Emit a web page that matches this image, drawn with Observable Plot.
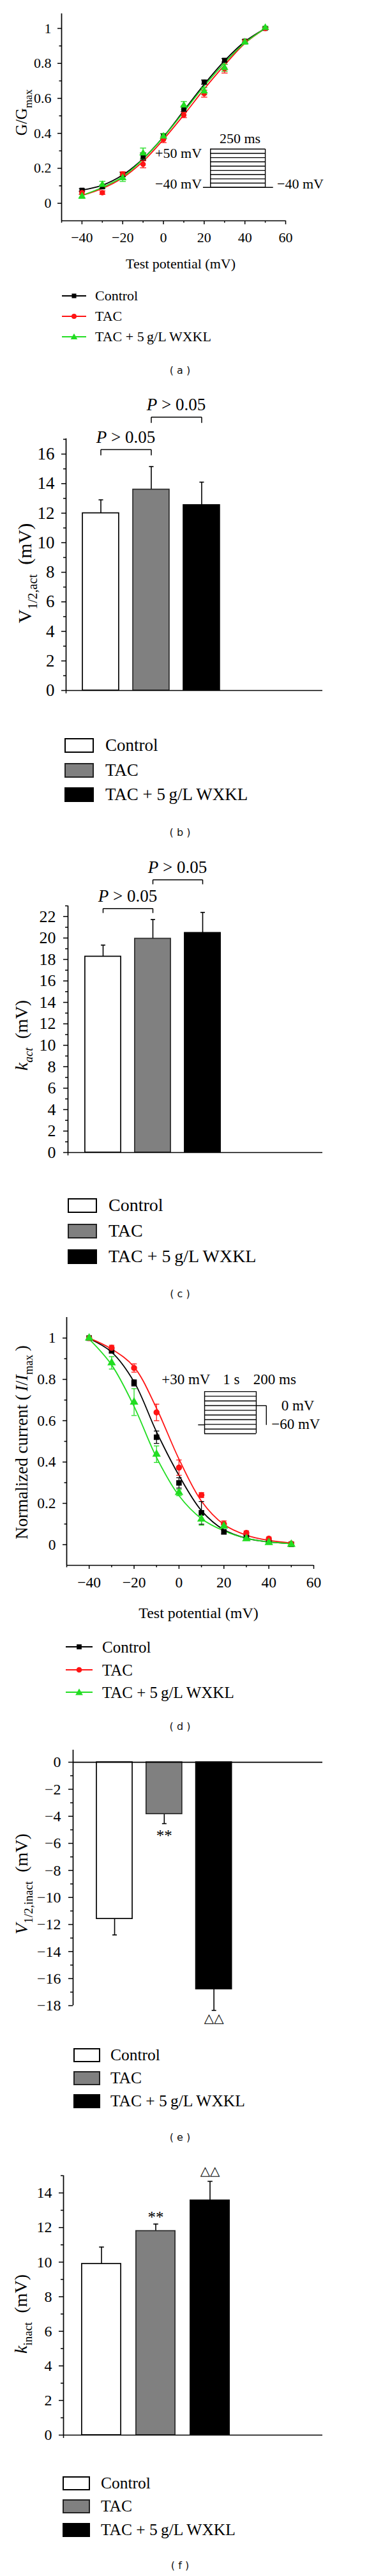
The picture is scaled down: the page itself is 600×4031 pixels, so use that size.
<!DOCTYPE html>
<html>
<head>
<meta charset="utf-8">
<script src="https://cdn.jsdelivr.net/npm/d3@7"></script>
<script src="https://cdn.jsdelivr.net/npm/@observablehq/plot@0.6"></script>
<style>
  html, body { margin: 0; padding: 0; background: #fff; }
  #root { position: relative; width: 600px; height: 4031px; overflow: hidden; background: #fff; }
  .cap { position: absolute; left: 0; width: 564px; text-align: center; font-family: "DejaVu Sans", sans-serif; font-size: 16px; line-height: 20px; color: #111; white-space: pre; }
</style>
</head>
<body>
<div id="root"></div>
<script>
// ---------------- DATA ----------------
const groups = ["Control", "TAC", "TAC + 5\u2009g/L WXKL"];
const testPotential = [-40, -30, -20, -10, 0, 10, 20, 30, 40, 50];

// (a) activation G/Gmax
const actControl = [0.075, 0.094, 0.164, 0.268, 0.383, 0.541, 0.693, 0.818, 0.927, 1.0];
const actTAC     = [0.061, 0.061, 0.168, 0.223, 0.365, 0.505, 0.627, 0.770, 0.925, 1.0];
const actWXKL    = [0.040, 0.106, 0.145, 0.286, 0.383, 0.560, 0.641, 0.775, 0.922, 1.004];
const actControlErr = [0.008, 0.010, 0.012, 0.020, 0.015, 0.015, 0.012, 0.010, 0.010, 0.005];
const actTACErr     = [0.010, 0.010, 0.012, 0.020, 0.018, 0.015, 0.020, 0.025, 0.012, 0.005];
const actWXKLErr    = [0.012, 0.020, 0.020, 0.030, 0.015, 0.022, 0.020, 0.020, 0.012, 0.008];
const actFitControl = [0.075, 0.103, 0.162, 0.255, 0.380, 0.530, 0.680, 0.815, 0.925, 1.0];
const actFitTAC     = [0.045, 0.085, 0.146, 0.240, 0.365, 0.505, 0.653, 0.790, 0.915, 1.0];
const actFitWXKL    = [0.045, 0.091, 0.152, 0.252, 0.378, 0.523, 0.670, 0.803, 0.918, 1.0];

// (d) inactivation I/Imax
const inactControl = [1.0, 0.938, 0.783, 0.520, 0.299, 0.154, 0.062, 0.036, 0.015, 0.002];
const inactTAC     = [1.0, 0.953, 0.855, 0.640, 0.373, 0.240, 0.100, 0.057, 0.029, 0.005];
const inactWXKL    = [1.0, 0.880, 0.690, 0.438, 0.252, 0.124, 0.090, 0.029, 0.010, 0.002];
const inactControlErr = [0.005, 0.010, 0.015, 0.030, 0.025, 0.055, 0.010, 0.008, 0.005, 0.005];
const inactTACErr     = [0.005, 0.012, 0.020, 0.040, 0.037, 0.012, 0.015, 0.010, 0.008, 0.005];
const inactWXKLErr    = [0.010, 0.030, 0.065, 0.040, 0.015, 0.030, 0.010, 0.008, 0.006, 0.010];
const inactFitControl = [0.997, 0.932, 0.788, 0.546, 0.335, 0.165, 0.072, 0.031, 0.013, 0.005];
const inactFitTAC     = [1.0, 0.947, 0.860, 0.660, 0.414, 0.211, 0.098, 0.046, 0.021, 0.008];
const inactFitWXKL    = [0.995, 0.870, 0.669, 0.422, 0.237, 0.126, 0.067, 0.031, 0.013, 0.005];

// protocol step levels (mV) drawn in the insets
const actSteps = [-40, -30, -20, -10, 0, 10, 20, 30, 40, 50];
const inactSteps = [-60, -50, -40, -30, -20, -10, 0, 10, 20, 30];

// bar panels (mean, SEM)
const v12act = [12.0, 13.6, 12.55];        const v12actErr = [0.9, 1.55, 1.55];
const kAct = [18.27, 19.94, 20.48];         const kActErr = [1.07, 1.79, 1.91];
const v12inact = [-11.58, -3.83, -16.78];  const v12inactErr = [1.19, 0.71, 1.57];
const kInact = [9.9, 11.8, 13.57];          const kInactErr = [0.97, 0.4, 1.1];

// tick labels
const curveXTicks = [-40, -20, 0, 20, 40, 60];
const curveXMinor = [-50, -30, -10, 10, 30, 50];
const curveYTicks = [0, 0.2, 0.4, 0.6, 0.8, 1];
const curveYMinor = [0.1, 0.3, 0.5, 0.7, 0.9];
const bTicks = [0, 2, 4, 6, 8, 10, 12, 14, 16];
const bMinor = [1, 3, 5, 7, 9, 11, 13, 15, 17];
const cTicks = [0, 2, 4, 6, 8, 10, 12, 14, 16, 18, 20, 22];
const cMinor = [1, 3, 5, 7, 9, 11, 13, 15, 17, 19, 21, 23];
const eTicks = [0, -2, -4, -6, -8, -10, -12, -14, -16, -18];
const eMinor = [-1, -3, -5, -7, -9, -11, -13, -15, -17];
const fTicks = [0, 2, 4, 6, 8, 10, 12, 14];
const fMinor = [1, 3, 5, 7, 9, 11, 13, 15];

// ---------------- STYLE ----------------
const W = 600;
const serif = "'Liberation Serif', 'Times New Roman', serif";
const lineColors = ["#000000", "#ff1414", "#22dd22"];
const barFills = ["#ffffff", "#808080", "#000000"];
const barStrokes = ["#000000", "#2a2a2a", "#000000"];
const root = document.getElementById("root");
const fmtTick = d => d < 0 ? "\u2212" + Math.abs(d) : String(d);

function place(el, top) {
  el.style.position = "absolute";
  el.style.left = "0px";
  el.style.top = top + "px";
  root.appendChild(el);
}

function addText(svg, x, y, parts, o) {
  const t = d3.select(svg).append("text")
    .attr("x", x).attr("y", y)
    .attr("font-family", serif)
    .attr("font-size", o.size)
    .attr("text-anchor", o.anchor || "middle")
    .attr("fill", "#000");
  if (o.rotate) t.attr("transform", `rotate(-90 ${x} ${y})`);
  let shifted = 0;
  for (const p of parts) {
    const s = t.append("tspan").text(p.t);
    if (p.italic) s.attr("font-style", "italic");
    const target = p.sub ? o.size * 0.3 : 0;
    if (target !== shifted) { s.attr("dy", target - shifted); shifted = target; }
    if (p.sub) s.attr("font-size", o.size * 0.68);
  }
}

function caption(label, cy) {
  const d = document.createElement("div");
  d.className = "cap";
  d.textContent = label;
  d.style.top = (cy - 10) + "px";
  root.appendChild(d);
}

function legendLines(c) {
  c.centers.forEach((cy, s) => {
    const row = document.createElement("div");
    row.style.cssText = `position:absolute;left:${c.x1}px;top:${cy - 20}px;height:40px;display:flex;align-items:center;font-family:${serif};font-size:${c.fs}px;line-height:1;white-space:nowrap;color:#000;`;
    const w = c.tx - c.x1;
    const svg = d3.create("svg").attr("width", w).attr("height", 16).style("flex", "none").style("display", "block");
    svg.append("line").attr("x1", 0).attr("x2", c.x2 - c.x1).attr("y1", 8).attr("y2", 8)
      .attr("stroke", lineColors[s]).attr("stroke-width", 1.8);
    const sym = [d3.symbolSquare, d3.symbolCircle, d3.symbolTriangle][s];
    svg.append("path").attr("d", d3.symbol(sym, c.msize)())
      .attr("transform", `translate(${(c.x2 - c.x1) / 2},${s === 2 ? 9 : 8})`)
      .attr("fill", lineColors[s]);
    row.appendChild(svg.node());
    const span = document.createElement("span");
    span.textContent = groups[s];
    row.appendChild(span);
    root.appendChild(row);
  });
}

function legendBoxes(c) {
  c.centers.forEach((cy, s) => {
    const row = document.createElement("div");
    row.style.cssText = `position:absolute;left:${c.x1}px;top:${cy - 20}px;height:40px;display:flex;align-items:center;font-family:${serif};font-size:${c.fs}px;line-height:1;white-space:nowrap;color:#000;`;
    const box = document.createElement("div");
    box.style.cssText = `flex:none;box-sizing:border-box;width:${c.x2 - c.x1}px;height:${c.h}px;background:${barFills[s]};border:2px solid ${s === 1 ? "#222" : "#000"};margin-right:${c.tx - c.x2}px;`;
    row.appendChild(box);
    const span = document.createElement("span");
    span.textContent = groups[s];
    row.appendChild(span);
    root.appendChild(row);
  });
}

// ---------------- CURVE PANELS ----------------
function curvePanel(c) {
  const pts = [], fit = [];
  c.series.forEach((vals, s) => vals.forEach((v, i) => pts.push({x: testPotential[i], y: v, e: c.errs[s][i], g: groups[s]})));
  c.fits.forEach((vals, s) => vals.forEach((v, i) => fit.push({x: testPotential[i], y: v, g: groups[s]})));
  const cap = c.cap;
  const ins = c.inset;
  const stepY = v => ins.yLow + (v - ins.steps[0]) / (ins.steps[ins.steps.length - 1] - ins.steps[0]) * (ins.yHigh - ins.yLow);
  const insetMarks = [
    Plot.ruleY(ins.steps, {y: stepY, x1: ins.x1, x2: ins.x2, strokeWidth: 1.4}),
    Plot.ruleX([ins.x1, ins.x2], {y1: ins.yLow, y2: ins.yHigh, strokeWidth: 1.4}),
    ...ins.segs.map(s => Plot.link([s], {x1: "x1", x2: "x2", y1: "y1", y2: "y2", strokeWidth: 1.4})),
    Plot.text(ins.labels.filter(l => l.anchor === "middle"), {x: "x", y: "y", text: "text", fontSize: ins.fs, fontFamily: serif}),
    Plot.text(ins.labels.filter(l => l.anchor === "end"), {x: "x", y: "y", text: "text", textAnchor: "end", fontSize: ins.fs, fontFamily: serif}),
    Plot.text(ins.labels.filter(l => l.anchor === "start"), {x: "x", y: "y", text: "text", textAnchor: "start", fontSize: ins.fs, fontFamily: serif})
  ];
  const plot = Plot.plot({
    width: W, height: c.height,
    marginTop: c.mt, marginBottom: c.mb, marginLeft: c.ml, marginRight: c.mr,
    style: {fontFamily: serif, fontSize: c.fs + "px", color: "#000", background: "transparent", overflow: "visible"},
    x: {domain: c.xDomain},
    y: {domain: c.yDomain},
    color: {domain: groups, range: lineColors},
    symbol: {domain: groups, range: ["square", "circle", "triangle"]},
    marks: [
      Plot.axisX({ticks: curveXTicks, tickSize: 6, tickPadding: c.xPad, tickFormat: fmtTick, label: null, strokeWidth: 1.5}),
      Plot.axisX({ticks: curveXMinor, tickSize: 3.5, tickFormat: () => "", label: null, strokeWidth: 1.5}),
      Plot.axisY({ticks: curveYTicks, tickSize: 6, tickPadding: c.yPad, tickFormat: fmtTick, label: null, strokeWidth: 1.5}),
      Plot.axisY({ticks: curveYMinor, tickSize: 3.5, tickFormat: () => "", label: null, strokeWidth: 1.5}),
      Plot.ruleX([c.xDomain[0]], {strokeWidth: 1.7}),
      Plot.ruleY([c.yDomain[0]], {strokeWidth: 1.7}),
      ...insetMarks,
      Plot.line(fit, {x: "x", y: "y", z: "g", stroke: "g", curve: "catmull-rom", strokeWidth: 1.8}),
      Plot.ruleX(pts, {x: "x", y1: d => d.y - d.e, y2: d => d.y + d.e, stroke: "g", strokeWidth: 1.3}),
      Plot.link(pts, {x1: d => d.x - cap, x2: d => d.x + cap, y1: d => d.y + d.e, y2: d => d.y + d.e, stroke: "g", strokeWidth: 1.3}),
      Plot.link(pts, {x1: d => d.x - cap, x2: d => d.x + cap, y1: d => d.y - d.e, y2: d => d.y - d.e, stroke: "g", strokeWidth: 1.3}),
      Plot.dot(pts, {x: "x", y: "y", fill: "g", stroke: "g", symbol: "g", r: c.r})
    ]
  });
  addText(plot, c.ylab.x, c.ylab.y, c.ylab.parts, {size: c.ylab.size, rotate: true});
  addText(plot, c.xlab.x, c.xlab.y, [{t: "Test potential (mV)"}], {size: c.xlab.size});
  place(plot, c.top);
}

// ---------------- BAR PANELS ----------------
function barPanel(c) {
  const data = c.values.map((v, i) => ({i, g: groups[i], v, tip: v + Math.sign(v) * c.errs[i]}));
  const pxPerUnit = (c.height - c.mt - c.mb) / (c.yDomain[1] - c.yDomain[0]);
  const leg = c.legPx / pxPerUnit;
  const br = c.brackets || [];
  const hw = 0.36, cap = 0.045;
  const ann = (c.annot || []).map(a => ({i: a.i, text: a.text, y: data[a.i].tip, kind: a.kind}));
  const plot = Plot.plot({
    width: W, height: c.height,
    marginTop: c.mt, marginBottom: c.mb, marginLeft: c.ml, marginRight: c.mr,
    style: {fontFamily: serif, fontSize: c.fs + "px", color: "#000", background: "transparent", overflow: "visible"},
    x: {domain: c.xDomain},
    y: {domain: c.yDomain},
    color: {domain: groups, range: barFills},
    marks: [
      Plot.ruleX(data, {x: "i", y1: "v", y2: "tip", strokeWidth: 1.6}),
      Plot.link(data, {x1: d => d.i - cap, x2: d => d.i + cap, y1: "tip", y2: "tip", strokeWidth: 1.6}),
      Plot.rect(data, {x1: d => d.i - hw, x2: d => d.i + hw, y1: 0, y2: "v", fill: "g", stroke: d => barStrokes[d.i], strokeWidth: 1.7}),
      Plot.axisX({ticks: c.xTickBottom ? [c.xDomain[0]] : [], tickSize: 5, tickFormat: () => "", label: null, strokeWidth: 1.5}),
      Plot.axisY({ticks: c.yTicks, tickSize: 7, tickPadding: c.yPad, tickFormat: fmtTick, label: null, strokeWidth: 1.5}),
      Plot.axisY({ticks: c.yMinor, tickSize: 4, tickFormat: () => "", label: null, strokeWidth: 1.5}),
      Plot.ruleY([0], {strokeWidth: 1.7}),
      Plot.ruleX([c.xDomain[0]], {strokeWidth: 1.7}),
      Plot.link(br, {x1: "a", x2: "b", y1: "y", y2: "y", strokeWidth: 1.5}),
      Plot.link(br, {x1: "a", x2: "a", y1: "y", y2: d => d.y - leg, strokeWidth: 1.5}),
      Plot.link(br, {x1: "b", x2: "b", y1: "y", y2: d => d.y - leg, strokeWidth: 1.5}),
      Plot.text(ann.filter(a => a.kind === "star"), {x: "i", y: "y", text: "text", dy: c.starDy, fontSize: 25, fontFamily: serif}),
      Plot.text(ann.filter(a => a.kind === "tri"), {x: "i", y: "y", text: "text", dy: c.triDy, fontSize: 20, fontFamily: "'DejaVu Sans', sans-serif"})
    ]
  });
  const xs = d3.scaleLinear(c.xDomain, [c.ml, W - c.mr]);
  const ys = d3.scaleLinear(c.yDomain, [c.height - c.mb, c.mt]);
  br.forEach(b => addText(plot, xs((b.a + b.b) / 2), ys(b.y) - 10, [{t: "P", italic: true}, {t: "\u00A0>\u00A00.05"}], {size: 27}));
  addText(plot, c.ylab.x, c.ylab.y, c.ylab.parts, {size: c.ylab.size, rotate: true});
  place(plot, c.top);
}

// ---------------- PANEL (a) ----------------
curvePanel({
  top: 0, height: 440, mt: 21, mb: 95, ml: 96, mr: 153,
  xDomain: [-50, 60], yDomain: [-0.1, 1.084], fs: 22, xPad: 12, yPad: 10, r: 3.5, cap: 1.5,
  series: [actControl, actTAC, actWXKL], errs: [actControlErr, actTACErr, actWXKLErr],
  fits: [actFitControl, actFitTAC, actFitWXKL],
  inset: {
    steps: actSteps, x1: 23.1, x2: 50, yLow: 0.091, yHigh: 0.31, fs: 22,
    segs: [{x1: 19.4, x2: 53.8, y1: 0.091, y2: 0.091}],
    labels: [
      {x: 37.6, y: 0.369, text: "250 ms", anchor: "middle"},
      {x: 18.8, y: 0.285, text: "+50 mV", anchor: "end"},
      {x: 18.8, y: 0.109, text: "\u221240 mV", anchor: "end"},
      {x: 55.8, y: 0.109, text: "\u221240 mV", anchor: "start"}
    ]
  },
  ylab: {x: 42, y: 176, size: 25, parts: [{t: "G/G"}, {t: "max", sub: true}]},
  xlab: {x: 283, y: 420, size: 22}
});
legendLines({centers: [463, 495, 527], x1: 97, x2: 135, tx: 149, fs: 22, msize: 50});
caption("( a )", 580);

// ---------------- PANEL (b) ----------------
barPanel({
  top: 600, height: 500, mt: 86, mb: 20, ml: 103, mr: 95,
  xDomain: [-0.69, 4.4], yDomain: [0, 17.04], fs: 27, yPad: 11, xTickBottom: true,
  values: v12act, errs: v12actErr, legPx: 9,
  yTicks: bTicks, yMinor: bMinor,
  brackets: [{a: 0, b: 1, y: 16.3}, {a: 1, b: 2, y: 18.5}],
  ylab: {x: 49, y: 297, size: 30, parts: [{t: "V"}, {t: "1/2,act", sub: true}, {t: "\u00A0\u00A0(mV)"}]}
});
legendBoxes({centers: [1166, 1205, 1243], x1: 101, x2: 147, h: 23, tx: 165, fs: 27});
caption("( b )", 1303);

// ---------------- PANEL (c) ----------------
barPanel({
  top: 1320, height: 505, mt: 97, mb: 22, ml: 106, mr: 95,
  xDomain: [-0.705, 4.41], yDomain: [0, 23], fs: 26, yPad: 12, xTickBottom: true,
  values: kAct, errs: kActErr, legPx: 7,
  yTicks: cTicks, yMinor: cMinor,
  brackets: [{a: 0, b: 1, y: 22.75}, {a: 1, b: 2, y: 25.43}],
  ylab: {x: 43, y: 300, size: 28, parts: [{t: "k", italic: true}, {t: "act", sub: true, italic: true}, {t: "\u00A0\u00A0(mV)"}]}
});
legendBoxes({centers: [1886, 1926, 1966], x1: 106, x2: 152, h: 23, tx: 170, fs: 28});
caption("( c )", 2025);

// ---------------- PANEL (d) ----------------
curvePanel({
  top: 2040, height: 505, mt: 21, mb: 96, ml: 104, mr: 109,
  xDomain: [-50, 60], yDomain: [-0.1, 1.1], fs: 23.5, xPad: 12, yPad: 11, r: 4, cap: 1.2,
  series: [inactControl, inactTAC, inactWXKL], errs: [inactControlErr, inactTACErr, inactWXKLErr],
  fits: [inactFitControl, inactFitTAC, inactFitWXKL],
  inset: {
    steps: inactSteps, x1: 11.4, x2: 34.4, yLow: 0.537, yHigh: 0.741, fs: 23,
    segs: [
      {x1: 8.5, x2: 11.4, y1: 0.58, y2: 0.58},
      {x1: 34.4, x2: 38.9, y1: 0.673, y2: 0.673},
      {x1: 38.9, x2: 38.9, y1: 0.673, y2: 0.58}
    ],
    labels: [
      {x: 3.1, y: 0.80, text: "+30 mV", anchor: "middle"},
      {x: 23.3, y: 0.80, text: "1 s", anchor: "middle"},
      {x: 42.6, y: 0.80, text: "200 ms", anchor: "middle"},
      {x: 52.9, y: 0.673, text: "0 mV", anchor: "middle"},
      {x: 52.0, y: 0.583, text: "\u221260 mV", anchor: "middle"}
    ]
  },
  ylab: {x: 43, y: 217, size: 27, parts: [{t: "Normalized current (\u2009"}, {t: "I", italic: true}, {t: "/"}, {t: "I", italic: true}, {t: "max", sub: true}, {t: "\u2009)"}]},
  xlab: {x: 311, y: 492, size: 24}
});
legendLines({centers: [2577, 2613, 2648], x1: 103, x2: 145, tx: 160, fs: 25, msize: 60});
caption("( d )", 2702);

// ---------------- PANEL (e) ----------------
barPanel({
  top: 2720, height: 460, mt: 18, mb: 42, ml: 114, mr: 95,
  xDomain: [-0.836, 4.19], yDomain: [-18, 0.9], fs: 24, yPad: 12, xTickBottom: false,
  values: v12inact, errs: v12inactErr, legPx: 0,
  yTicks: eTicks, yMinor: eMinor,
  annot: [{i: 1, text: "**", kind: "star"}, {i: 2, text: "\u25B3\u25B3", kind: "tri"}],
  starDy: 19, triDy: 13,
  ylab: {x: 43, y: 228, size: 28, parts: [{t: "V", italic: true}, {t: "1/2,inact", sub: true}, {t: "\u00A0\u00A0(mV)"}]}
});
legendBoxes({centers: [3216, 3252, 3288], x1: 115, x2: 157, h: 22, tx: 173, fs: 25.5});
caption("( e )", 3345);

// ---------------- PANEL (f) ----------------
barPanel({
  top: 3370, height: 470, mt: 34, mb: 30, ml: 99, mr: 95,
  xDomain: [-0.7, 4.076], yDomain: [0, 15], fs: 24, yPad: 11, xTickBottom: true,
  values: kInact, errs: kInactErr, legPx: 0,
  yTicks: fTicks, yMinor: fMinor,
  annot: [{i: 1, text: "**", kind: "star"}, {i: 2, text: "\u25B3\u25B3", kind: "tri"}],
  starDy: -10, triDy: -16,
  ylab: {x: 42, y: 251, size: 28, parts: [{t: "k", italic: true}, {t: "inact", sub: true}, {t: "\u00A0\u00A0(mV)"}]}
});
legendBoxes({centers: [3886, 3922, 3959], x1: 98, x2: 141, h: 22, tx: 158, fs: 25.5});
caption("( f )", 4015);
</script>
</body>
</html>
